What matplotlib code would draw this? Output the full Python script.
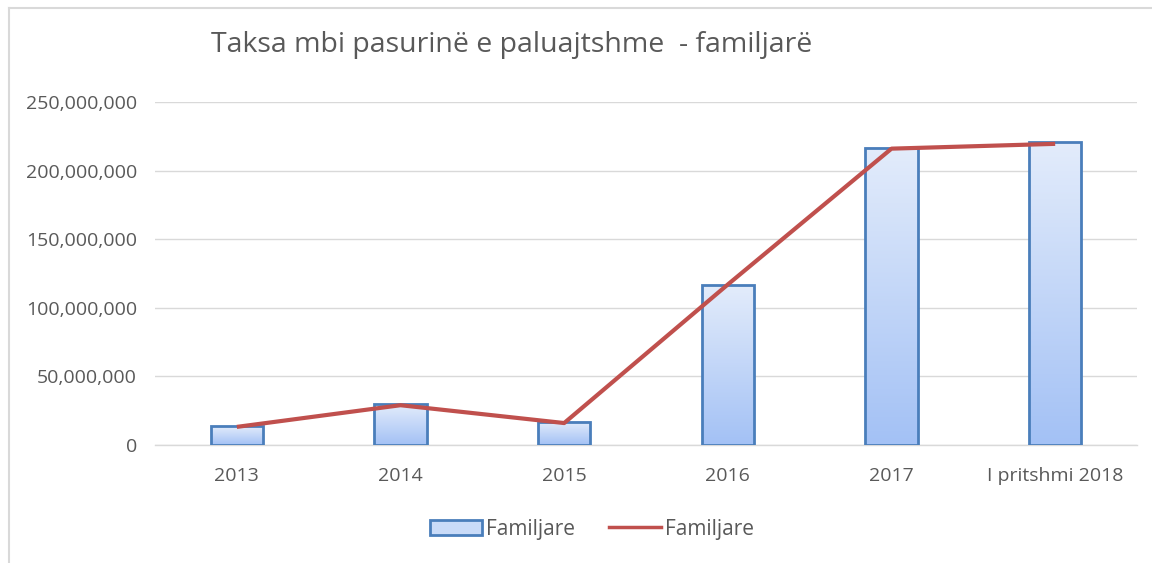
import matplotlib
matplotlib.use("Agg")
import matplotlib.pyplot as plt
import numpy as np
from matplotlib.ticker import FuncFormatter, MultipleLocator
from matplotlib.lines import Line2D
from matplotlib.patches import Patch
from matplotlib.colors import LinearSegmentedColormap

categories = ["2013", "2014", "2015", "2016", "2017", "I pritshmi 2018"]
bar_values = [13.8e6, 29.8e6, 16.8e6, 116.5e6, 216.5e6, 220.5e6]
line_values = [13.2e6, 29.0e6, 16.0e6, 117.0e6, 216.0e6, 219.5e6]
series_name = "Familjare"
title = "Taksa mbi pasurinë e paluajtshme  - familjarë"

plt.rcParams['font.family'] = ['Open Sans', 'DejaVu Sans']
txt = '#595959'

fig = plt.figure(figsize=(11.52, 5.63), dpi=100)
ax = fig.add_axes([155/1152, (563-445)/563, (1137-155)/1152, (445-102)/563])

x = np.arange(len(categories))
w = 0.32
bars = ax.bar(x, bar_values, width=w, facecolor='none', edgecolor='#4a7ebb',
              linewidth=2, zorder=3)
grad = np.linspace(0, 1, 256).reshape(-1, 1)
cmap = LinearSegmentedColormap.from_list('g', ['#a3c1f5', '#e3ecfb'])
for b in bars:
    bx, by = b.get_x(), b.get_y()
    bw, bh = b.get_width(), b.get_height()
    ax.imshow(grad, extent=[bx, bx + bw, by, by + bh], origin='lower',
              aspect='auto', cmap=cmap, zorder=2)

ax.plot(x, line_values, color='#c0504d', linewidth=3, zorder=4,
        solid_capstyle='butt')

ax.set_xlim(-0.5, len(categories) - 0.5)
ax.set_ylim(0, 250e6)
ax.yaxis.set_major_locator(MultipleLocator(50e6))
ax.yaxis.set_major_formatter(FuncFormatter(lambda v, p: f"{v:,.0f}"))
ax.set_xticks(x)
ax.set_xticklabels(categories)
ax.tick_params(axis='both', length=0, labelsize=14, colors=txt)
ax.tick_params(axis='x', pad=16)
ax.tick_params(axis='y', pad=13)
ax.grid(axis='y', color='#d9d9d9', linewidth=1, zorder=0)
ax.set_axisbelow(True)
for s in ['top', 'right', 'left']:
    ax.spines[s].set_visible(False)
ax.spines['bottom'].set_color('#d9d9d9')
ax.spines['bottom'].set_linewidth(1)

fig.text(512/1152, 1 - 45/563, title, ha='center', va='center',
         fontsize=20.5, color=txt)

handles = [Patch(facecolor='#c9dbf8', edgecolor='#4a7ebb', linewidth=2),
           Line2D([0], [0], color='#c0504d', linewidth=2.5)]
leg = fig.legend(handles, [series_name, series_name], loc='center',
                 bbox_to_anchor=(592/1152, 1 - 529/563), ncol=2, frameon=False,
                 fontsize=15, handlelength=2.5, handleheight=0.75,
                 columnspacing=1.6, handletextpad=0.2)
for t in leg.get_texts():
    t.set_color(txt)

fig.add_artist(Line2D([9/1152, 9/1152], [0, 1 - 8/563], transform=fig.transFigure,
                      color='#d9d9d9', linewidth=1.5))
fig.add_artist(Line2D([9/1152, 1], [1 - 8/563, 1 - 8/563], transform=fig.transFigure,
                      color='#d9d9d9', linewidth=1.5))

fig.savefig("out.png", dpi=100)
